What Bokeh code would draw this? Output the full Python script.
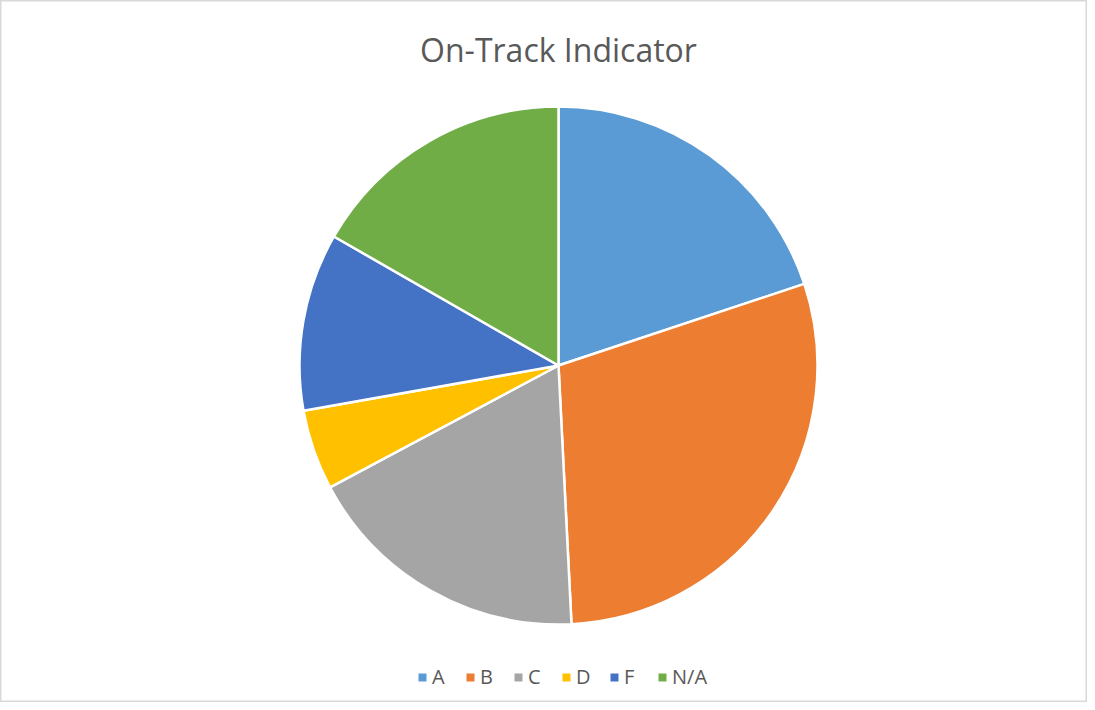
import math
from bokeh.plotting import figure
from bokeh.models import Range1d, ColumnDataSource, Legend, LegendItem
from bokeh.core.properties import value
from bokeh.embed import file_html
from bokeh.resources import INLINE

categories = ["A", "B", "C", "D", "F", "N/A"]
shares = [19.9, 29.3, 18.0, 5.0, 11.1, 16.7]
colors = ["#5B9BD5", "#ED7D31", "#A5A5A5", "#FFC000", "#4472C4", "#70AD47"]
title_text = "On-Track Indicator"

W, H = 1087, 702
p = figure(width=W, height=H, output_backend="svg", toolbar_location=None,
           x_range=Range1d(0, W), y_range=Range1d(0, H), min_border=0,
           outline_line_color="#d9d9d9", outline_line_width=2)
p.axis.visible = False
p.grid.visible = False

total = sum(shares)
starts, ends = [], []
cum = 0.0
for s in shares:
    a0 = math.pi / 2 - 2 * math.pi * cum / total
    cum += s
    a1 = math.pi / 2 - 2 * math.pi * cum / total
    starts.append(a0)
    ends.append(a1)

cx, cy, r = 558, H - 365, 259
src = ColumnDataSource(dict(cat=categories, val=shares, color=colors,
                            start=starts, end=ends,
                            nx=[float("nan")] * len(categories),
                            ny=[float("nan")] * len(categories)))
wr = p.wedge(x=cx, y=cy, radius=r, start_angle="start", end_angle="end",
             direction="clock", fill_color="color", line_color="white",
             line_width=2.5, source=src)

# legend proxy squares (not drawn in plot area)
lr = p.rect(x="nx", y="ny", width=1, height=1, fill_color="color",
            line_color=None, source=src)

p.text(x=[558], y=[H - 49], text=[title_text], text_align="center",
       text_baseline="middle", text_font=value("Open Sans"),
       text_font_size="32px", text_color="#595959")

items = [LegendItem(label=c, renderers=[lr], index=i) for i, c in enumerate(categories)]
legend = Legend(items=items, orientation="horizontal", location=(417, 12),
                label_text_font="Open Sans", label_text_font_size="20px",
                label_text_color="#595959", glyph_width=10, glyph_height=10,
                spacing=13, label_standoff=5, background_fill_alpha=0,
                border_line_alpha=0, padding=0, margin=0)
p.add_layout(legend, "center")

open("out.html", "w").write(file_html(p, INLINE))
